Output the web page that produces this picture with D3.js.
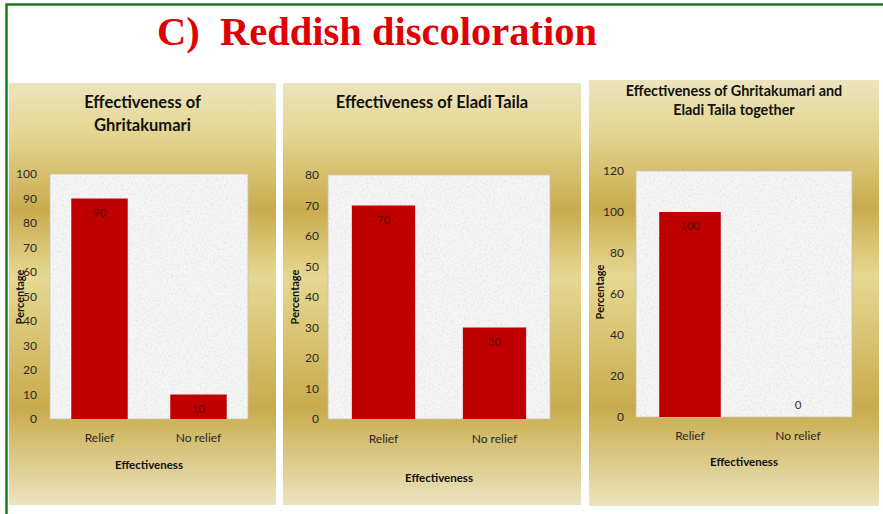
<!DOCTYPE html>
<html>
<head>
<meta charset="utf-8">
<script src="https://cdn.jsdelivr.net/npm/d3@7"></script>
<style>
  html, body { margin: 0; padding: 0; background: #fff; }
  svg { display: block; }
</style>
</head>
<body>
<svg id="chart" width="883" height="514"></svg>
<script>
// ---------------- DATA ----------------
const mainTitle = "C)  Reddish discoloration";
const categories = ["Relief", "No relief"];
const ghritakumariValues = [90, 10];
const eladiTailaValues = [70, 30];
const togetherValues = [100, 0];
const ghritakumariTicks = [0, 10, 20, 30, 40, 50, 60, 70, 80, 90, 100];
const eladiTailaTicks = [0, 10, 20, 30, 40, 50, 60, 70, 80];
const togetherTicks = [0, 20, 40, 60, 80, 100, 120];
const ghritakumariTitle = ["Effectiveness of", "Ghritakumari"];
const eladiTailaTitle = ["Effectiveness of Eladi Taila"];
const togetherTitle = ["Effectiveness of Ghritakumari and", "Eladi Taila together"];
const xAxisTitle = "Effectiveness";
const yAxisTitle = "Percentage";

// ---------------- LAYOUT ----------------
const panels = [
  { title: ghritakumariTitle, values: ghritakumariValues, ticks: ghritakumariTicks,
    box: {x: 9, y: 83, w: 267, h: 422}, plot: {l: 50, t: 174, r: 248, b: 419},
    titleY: 102, titleGap: 23, titleSize: 16.5, catY: 439, axTitleY: 465, yTitleX: 20, yTitleY: 297, tickGap: 13 },
  { title: eladiTailaTitle, values: eladiTailaValues, ticks: eladiTailaTicks,
    box: {x: 283, y: 83, w: 298, h: 422}, plot: {l: 328, t: 175, r: 550, b: 419},
    titleY: 102, titleGap: 23, titleSize: 16.5, catY: 440, axTitleY: 478, yTitleX: 295, yTitleY: 297, tickGap: 9 },
  { title: togetherTitle, values: togetherValues, ticks: togetherTicks,
    box: {x: 589, y: 80, w: 290, h: 426}, plot: {l: 636, t: 171, r: 852, b: 417},
    titleY: 91, titleGap: 19, titleSize: 14.4, catY: 437, axTitleY: 462, yTitleX: 600, yTitleY: 292, tickGap: 12 }
];

const FONT = "Lato, 'Open Sans', sans-serif";
const svg = d3.select("#chart");
const defs = svg.append("defs");

// gold gradient (Excel "Gold" preset-like)
const grad = defs.append("linearGradient").attr("id", "gold")
  .attr("x1", 0).attr("y1", 0).attr("x2", 0).attr("y2", 1);
[[0, "#ece4bd"], [0.12, "#e4d692"], [0.30, "#c9ab4d"], [0.46, "#e6d892"],
 [0.77, "#c8ab4c"], [1, "#ece4bd"]].forEach(([o, c]) =>
  grad.append("stop").attr("offset", o).attr("stop-color", c));

// granite texture for plot area
const filt = defs.append("filter").attr("id", "granite")
  .attr("x", 0).attr("y", 0).attr("width", "100%").attr("height", "100%");
filt.append("feTurbulence").attr("type", "fractalNoise").attr("baseFrequency", 0.45)
  .attr("numOctaves", 3).attr("seed", 7).attr("result", "noise");
filt.append("feColorMatrix").attr("in", "noise").attr("type", "matrix")
  .attr("values", "0 0 0 0 0.78  0 0 0 0 0.78  0 0 0 0 0.78  2.4 0 0 0 -1.1")
  .attr("result", "speck");
filt.append("feComposite").attr("in", "speck").attr("in2", "SourceGraphic")
  .attr("operator", "atop");

// outer green frame
svg.append("rect").attr("x", 6.5).attr("y", 4.5).attr("width", 920).attr("height", 600)
  .attr("fill", "none").attr("stroke", "#1c7c1c").attr("stroke-width", 2.5);

// main title
svg.append("text")
  .attr("x", 377).attr("y", 45)
  .attr("text-anchor", "middle")
  .attr("font-family", "'Liberation Serif', 'Times New Roman', serif")
  .attr("font-weight", "bold").attr("font-size", 40.5)
  .attr("fill", "#e00000")
  .style("white-space", "pre")
  .text(mainTitle);

panels.forEach(p => {
  const g = svg.append("g");
  g.append("rect").attr("x", p.box.x).attr("y", p.box.y)
    .attr("width", p.box.w).attr("height", p.box.h).attr("fill", "url(#gold)");

  // title
  p.title.forEach((line, i) => {
    g.append("text")
      .attr("x", p.box.x + p.box.w / 2).attr("y", p.titleY + i * p.titleGap)
      .attr("dy", "0.35em").attr("text-anchor", "middle")
      .attr("font-family", FONT).attr("font-weight", "bold")
      .attr("font-size", p.titleSize).attr("fill", "#111")
      .text(line);
  });

  const x = d3.scaleBand().domain(categories)
    .range([p.plot.l, p.plot.r]).paddingInner(0.43).paddingOuter(0.215);
  const y = d3.scaleLinear().domain([0, d3.max(p.ticks)])
    .range([p.plot.b, p.plot.t]);

  // plot area
  g.append("rect").attr("x", p.plot.l).attr("y", p.plot.t)
    .attr("width", p.plot.r - p.plot.l).attr("height", p.plot.b - p.plot.t)
    .attr("fill", "#f5f5f5").attr("filter", "url(#granite)");
  g.append("rect").attr("x", p.plot.l).attr("y", p.plot.t)
    .attr("width", p.plot.r - p.plot.l).attr("height", p.plot.b - p.plot.t)
    .attr("fill", "none").attr("stroke", "#c9c3b0").attr("stroke-width", 0.8);

  // bars
  g.selectAll("rect.bar").data(p.values).join("rect").attr("class", "bar")
    .attr("x", (d, i) => x(categories[i]))
    .attr("y", d => y(d))
    .attr("width", x.bandwidth())
    .attr("height", d => y(0) - y(d))
    .attr("fill", "#c00000");

  // value labels
  g.selectAll("text.val").data(p.values).join("text").attr("class", "val")
    .attr("x", (d, i) => x(categories[i]) + x.bandwidth() / 2)
    .attr("y", d => d > 0 ? y(d) + 14 : y(d) - 12)
    .attr("dy", "0.35em").attr("text-anchor", "middle")
    .attr("font-family", FONT).attr("font-size", 11.5)
    .attr("fill", d => d > 0 ? "#5c0a0a" : "#333")
    .text(d => d);

  // y axis
  const yAxis = d3.axisLeft(y).tickValues(p.ticks).tickSize(0).tickPadding(p.tickGap);
  const ya = g.append("g").attr("transform", `translate(${p.plot.l},0)`).call(yAxis);
  ya.select(".domain").remove();
  ya.selectAll("text").attr("font-family", FONT).attr("font-size", 12).attr("fill", "#2a2a2a");

  // x axis
  const xAxis = d3.axisBottom(x).tickSize(0).tickPadding(p.catY - p.plot.b - 6);
  const xa = g.append("g").attr("transform", `translate(0,${p.plot.b})`).call(xAxis);
  xa.select(".domain").remove();
  xa.selectAll("text").attr("font-family", FONT).attr("font-size", 12).attr("fill", "#2a2a2a");

  // axis titles
  g.append("text")
    .attr("x", (p.plot.l + p.plot.r) / 2).attr("y", p.axTitleY)
    .attr("dy", "0.35em").attr("text-anchor", "middle")
    .attr("font-family", FONT).attr("font-weight", "bold").attr("font-size", 11.5)
    .attr("fill", "#111").text(xAxisTitle);
  g.append("text")
    .attr("transform", `translate(${p.yTitleX},${p.yTitleY}) rotate(-90)`)
    .attr("dy", "0.35em").attr("text-anchor", "middle")
    .attr("font-family", FONT).attr("font-weight", "bold").attr("font-size", 11)
    .attr("fill", "#111").text(yAxisTitle);
});
</script>
</body>
</html>
